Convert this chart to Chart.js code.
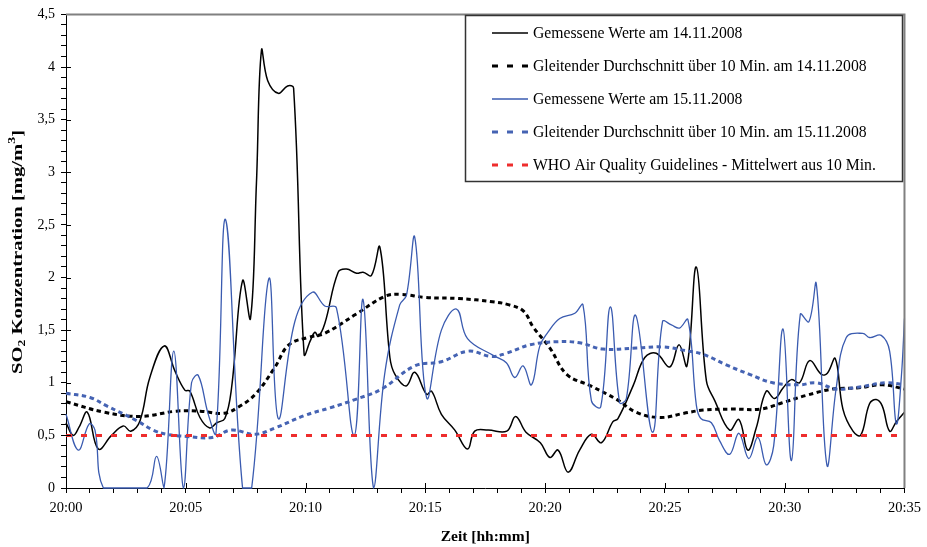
<!DOCTYPE html>
<html>
<head>
<meta charset="utf-8">
<script src="https://cdn.jsdelivr.net/npm/chart.js@4"></script>
<style>
  html, body { margin: 0; padding: 0; background: #fff; }
  #box { width: 927px; height: 547px; }
</style>
</head>
<body>
<div id="box"><canvas id="grafico"></canvas></div>
<script>
// Zeit in Minuten nach 20:00
const zeit14 = [0, 0.3, 0.55, 0.89, 1.35, 1.9, 2.39, 2.7, 3.09, 3.5, 4.1, 4.55, 4.96, 5.17, 5.59, 6.0, 6.29, 6.63, 6.91, 7.37, 7.7, 7.95,
  8.16, 8.42, 8.86, 9.25, 9.5, 9.94, 10.2, 10.39, 10.53, 10.8, 11.36, 11.71, 12.13, 12.4, 12.75, 13.1, 13.52, 13.73, 14.2, 14.56,
  15.05, 15.26, 15.67, 16.23, 16.76, 17.06, 17.62, 18.4, 18.77, 19.2, 19.8, 20.2, 20.54, 20.96, 21.44, 21.93, 22.35, 22.83, 23.04,
  23.67, 24.16, 24.64, 25.2, 25.59, 25.92, 26.31, 26.73, 27.08, 27.7, 28.09, 28.46, 28.81, 29.23, 29.58, 29.93, 30.28, 30.62,
  31.04, 31.53, 31.78, 32.11, 32.43, 32.85, 33.17, 33.54, 33.82, 34.07, 34.38, 34.66, 35];
const werte14 = [0.62, 0.5, 0.58, 0.72, 0.37, 0.5, 0.59, 0.54, 0.64, 1.05, 1.35, 1.11, 0.93, 0.92, 0.67, 0.57, 0.62, 0.66, 0.95, 1.97, 1.61, 2.9,
  4.16, 3.87, 3.75, 3.82, 3.8, 1.27, 1.4, 1.48, 1.44, 1.56, 2.05, 2.08, 2.04, 2.05, 2.02, 2.29, 1.24, 1.08, 0.97, 1.1,
  0.89, 0.92, 0.7, 0.55, 0.37, 0.54, 0.55, 0.54, 0.68, 0.53, 0.43, 0.29, 0.36, 0.15, 0.36, 0.51, 0.43, 0.63, 0.66,
  0.97, 1.24, 1.28, 1.15, 1.36, 1.16, 2.1, 1.02, 0.83, 0.55, 0.65, 0.36, 0.57, 0.92, 0.85, 0.95, 1.03, 1.0,
  1.21, 1.08, 1.09, 1.23, 0.75, 0.54, 0.5, 0.8, 0.84, 0.78, 0.54, 0.63, 0.72];

const zeit15 = [0, 0.51, 0.97, 1.21, 1.56, 2.4, 3.39, 3.78, 4.09, 4.5, 4.9, 5.24, 5.52, 5.94, 6.26, 6.66, 7.37, 7.75, 8.47, 8.86,
  9.55, 10.28, 10.8, 11.29, 12.03, 12.4, 12.84, 13.3, 13.93, 14.21, 14.56, 15.05, 15.67, 16.3, 16.76, 17.83, 18.38, 18.73,
  19.08, 19.43, 19.78, 20.12, 20.61, 21.24, 21.58, 21.93, 22.32, 22.72, 23.11, 23.39, 23.78, 24.48, 24.9, 25.27, 25.61,
  25.96, 26.31, 26.5, 26.94, 27.28, 27.7, 28.09, 28.5, 28.88, 29.23, 29.54, 29.93, 30.28, 30.65, 31.01, 31.32, 31.76,
  32.15, 32.57, 33.26, 33.54, 34.03, 34.38, 34.66, 34.87, 35];
const werte15 = [0.7, 0.36, 0.61, 0.55, 0, 0, 0, 0.3, 0, 1.3, 0, 1.0, 1.07, 0.7, 0.52, 2.55, 0, 0, 1.99, 0.66,
  1.58, 1.86, 1.73, 1.71, 0.5, 1.79, 0, 1.08, 1.74, 1.83, 2.38, 0.86, 1.5, 1.7, 1.42, 1.26, 1.19, 1.05,
  1.16, 0.98, 1.35, 1.48, 1.61, 1.66, 1.74, 0.83, 0.77, 1.72, 0.81, 0.85, 1.64, 0.53, 1.58, 1.55, 1.52,
  1.6, 0.79, 0.66, 0.62, 0.45, 0.32, 0.52, 0.28, 0.48, 0.22, 0.4, 1.51, 0.26, 1.65, 1.58, 1.94, 0.22,
  0.95, 1.43, 1.47, 1.43, 1.45, 1.3, 0.61, 1.06, 1.61];

const zeitMittel14 = [0, 1.6, 3.1, 4.6, 5.6, 6.6, 7.2, 7.9, 8.7, 9.3, 10.1, 10.8, 12.1, 13.3, 14.0, 15.0, 16.4, 17.8, 18.5,
  19.1, 19.5, 20.2, 20.9, 21.9, 23.0, 23.8, 24.8, 25.8, 26.6, 27.8, 29.0, 29.9, 30.9, 32.0, 33.0, 34.1, 35];
const mittel14 = [0.82, 0.72, 0.68, 0.73, 0.73, 0.71, 0.77, 0.89, 1.14, 1.36, 1.43, 1.47, 1.65, 1.82, 1.84, 1.81, 1.8, 1.77, 1.74,
  1.68, 1.53, 1.33, 1.08, 0.97, 0.84, 0.72, 0.67, 0.71, 0.74, 0.75, 0.75, 0.81, 0.88, 0.94, 0.95, 0.98, 0.94];

const zeitMittel15 = [0, 1.0, 1.7, 2.95, 3.64, 4.2, 5.03, 6.1, 6.9, 7.9, 8.72, 9.97, 11.0, 12.06, 13.17, 14.56, 15.67, 16.78,
  17.76, 18.38, 19.36, 20.47, 21.44, 22.41, 23.81, 24.92, 25.75, 26.59, 27.56, 28.53, 29.5, 30.62, 31.32, 32.15, 33.12, 34.24, 35];
const mittel15 = [0.9, 0.86, 0.78, 0.64, 0.55, 0.51, 0.49, 0.48, 0.55, 0.51, 0.57, 0.69, 0.76, 0.84, 0.94, 1.16, 1.2, 1.3,
  1.25, 1.28, 1.36, 1.39, 1.38, 1.32, 1.33, 1.34, 1.31, 1.27, 1.17, 1.08, 1.0, 0.98, 1.0, 0.94, 0.96, 1.0, 0.98];

const zeitWHO = [0, 35];
const werteWHO = [0.5, 0.5];

const labels = [
  'Gemessene Werte am 14.11.2008',
  'Gleitender Durchschnitt über 10 Min. am 14.11.2008',
  'Gemessene Werte am 15.11.2008',
  'Gleitender Durchschnitt über 10 Min. am 15.11.2008',
  'WHO Air Quality Guidelines - Mittelwert aus 10 Min.'
];

const serif = "'Liberation Serif', 'Times New Roman', serif";

function punkte(t, v) {
  return t.map((x, i) => ({ x: x, y: v[i] }));
}

// y-Achsentitel mit tiefgestellter 2 und hochgestellter 3
function yTitel(ctx) {
  const teile = [
    { t: 'SO', s: 15, dy: 0 },
    { t: '2', s: 10, dy: 4 },
    { t: ' Konzentration [mg/m', s: 15, dy: 0 },
    { t: '3', s: 10, dy: -6 },
    { t: ']', s: 15, dy: 0 }
  ];
  let breite = 0;
  teile.forEach(p => {
    ctx.font = 'bold ' + p.s + 'px ' + serif;
    p.w = ctx.measureText(p.t).width;
    breite += p.w;
  });
  ctx.save();
  ctx.translate(18, 252);
  ctx.rotate(-Math.PI / 2);
  ctx.scale(244 / breite, 1);
  ctx.fillStyle = '#000';
  ctx.textBaseline = 'middle';
  let x = -breite / 2;
  teile.forEach(p => {
    ctx.font = 'bold ' + p.s + 'px ' + serif;
    ctx.fillText(p.t, x, p.dy);
    x += p.w;
  });
  ctx.restore();
}

// Rahmen oben/rechts, innere Hauptstriche und Legende
const rahmenPlugin = {
  id: 'rahmen',
  afterDraw(chart) {
    const ctx = chart.ctx;
    const a = chart.chartArea;
    const xs = chart.scales.x;
    const ys = chart.scales.y;
    ctx.save();
    ctx.strokeStyle = '#808080';
    ctx.lineWidth = 2;
    ctx.beginPath();
    ctx.moveTo(a.left, a.top);
    ctx.lineTo(a.right, a.top);
    ctx.lineTo(a.right, a.bottom);
    ctx.stroke();

    ctx.strokeStyle = '#000';
    ctx.lineWidth = 1;
    ctx.beginPath();
    for (let m = 5; m < 35; m += 5) {
      const px = Math.round(xs.getPixelForValue(m)) + 0.5;
      ctx.moveTo(px, a.bottom);
      ctx.lineTo(px, a.bottom - 5);
    }
    for (let k = 1; k < 9; k++) {
      const py = Math.round(ys.getPixelForValue(k * 0.5)) + 0.5;
      ctx.moveTo(a.left, py);
      ctx.lineTo(a.left + 5, py);
    }
    ctx.stroke();

    yTitel(ctx);

    // Legende
    ctx.fillStyle = '#fff';
    ctx.fillRect(465, 15, 437, 167);
    ctx.strokeStyle = '#333';
    ctx.lineWidth = 1.5;
    ctx.strokeRect(465.5, 15.5, 437, 166);
    ctx.font = '15.7px ' + serif;
    ctx.textBaseline = 'middle';
    chart.data.datasets.forEach((ds, i) => {
      const y = 33 + i * 33;
      ctx.strokeStyle = ds.borderColor;
      ctx.lineWidth = ds.borderWidth;
      ctx.setLineDash(ds.borderDash.length ? [6, 9] : []);
      ctx.beginPath();
      ctx.moveTo(492, y);
      ctx.lineTo(528, y);
      ctx.stroke();
      ctx.setLineDash([]);
      ctx.fillStyle = '#000';
      ctx.fillText(ds.label, 533, y + 1);
    });
    ctx.restore();
  }
};

new Chart(document.getElementById('grafico'), {
  type: 'line',
  data: {
    datasets: [{
      label: labels[0],
      data: punkte(zeit14, werte14),
      borderColor: '#000000',
      borderWidth: 1.5,
      borderDash: [],
      order: 4
    }, {
      label: labels[1],
      data: punkte(zeitMittel14, mittel14),
      borderColor: '#000000',
      borderWidth: 3,
      borderDash: [4.5, 3.5],
      order: 3
    }, {
      label: labels[2],
      data: punkte(zeit15, werte15),
      borderColor: '#3a5bb0',
      borderWidth: 1.3,
      borderDash: [],
      order: 2
    }, {
      label: labels[3],
      data: punkte(zeitMittel15, mittel15),
      borderColor: '#4563b3',
      borderWidth: 3,
      borderDash: [4.5, 3.5],
      order: 1
    }, {
      label: labels[4],
      data: punkte(zeitWHO, werteWHO),
      borderColor: '#ee2d2d',
      borderWidth: 3,
      borderDash: [6, 9],
      tension: 0,
      order: 0
    }]
  },
  options: {
    responsive: true,
    maintainAspectRatio: false,
    animation: false,
    layout: { padding: { left: 4, right: 22, top: 10, bottom: 0 } },
    elements: {
      point: { radius: 0 },
      line: { tension: 0.4, fill: false }
    },
    datasets: { line: { clip: 1 } },
    plugins: {
      legend: { display: false },
      tooltip: { enabled: false }
    },
    scales: {
      x: {
        type: 'linear',
        min: 0,
        max: 35,
        border: { color: '#000', width: 1 },
        grid: { drawOnChartArea: false, tickLength: 5, color: '#000' },
        ticks: {
          stepSize: 1,
          autoSkip: false,
          maxRotation: 0,
          padding: 6,
          color: '#000',
          font: { family: serif, size: 14.5 },
          callback: v => (v % 5 === 0 ? '20:' + String(v).padStart(2, '0') : '')
        },
        title: {
          display: true,
          text: 'Zeit [hh:mm]',
          color: '#000',
          font: { family: serif, size: 15.5, weight: 'bold' },
          padding: { top: 4, bottom: 1 }
        },
        afterFit: s => { s.height = 59; }
      },
      y: {
        min: 0,
        max: 4.5,
        border: { color: '#000', width: 1 },
        grid: { drawOnChartArea: false, tickLength: 5, color: '#000' },
        ticks: {
          stepSize: 0.1,
          autoSkip: false,
          padding: 6,
          color: '#000',
          font: { family: serif, size: 14 },
          callback: v => {
            const r = Math.round(v * 10);
            return r % 5 === 0 ? String(r / 10).replace('.', ',') : '';
          }
        },
        afterFit: s => { s.width = 62; }
      }
    }
  },
  plugins: [rahmenPlugin]
});
</script>
</body>
</html>
